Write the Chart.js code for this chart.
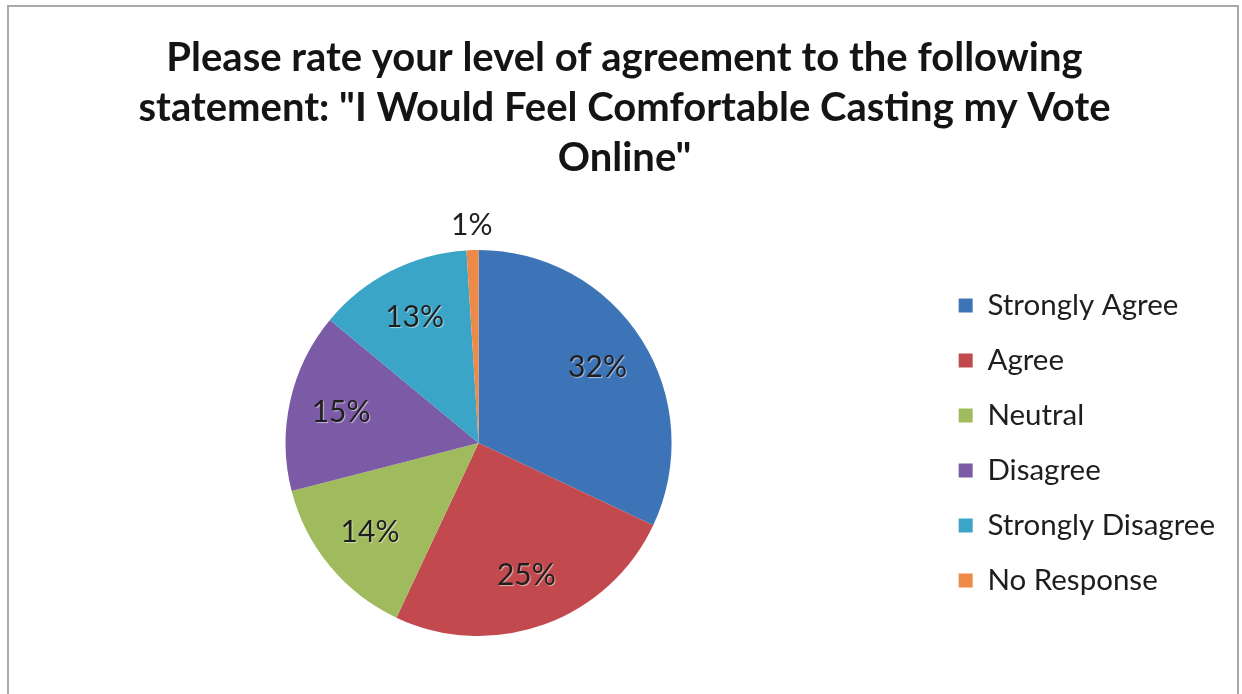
<!DOCTYPE html>
<html>
<head>
<meta charset="utf-8">
<script src="https://cdn.jsdelivr.net/npm/chart.js@4"></script>
<style>
  html, body { margin: 0; padding: 0; background: #ffffff; }
  #wrap { position: relative; width: 1242px; height: 694px; }
  canvas { display: block; }
</style>
</head>
<body>
<div id="wrap"><canvas id="chart" width="1242" height="694"></canvas></div>
<script>
// Survey answers and their share of respondents (percent)
const categories = ["Strongly Agree", "Agree", "Neutral", "Disagree", "Strongly Disagree", "No Response"];
const shares = [32, 25, 14, 15, 13, 1];
const sliceColors = ["#3d74b8", "#c24a4f", "#9fbb5d", "#7b5ba6", "#3aa5c7", "#ee8a48"];
const titleLines = [
  "Please rate your level of agreement to the following",
  "statement: \"I Would Feel Comfortable Casting my Vote",
  "Online\""
];

const FONT = "Lato, 'Open Sans', 'DejaVu Sans', sans-serif";

// Thin grey frame around the chart
const framePlugin = {
  id: 'frame',
  beforeDraw(chart) {
    const ctx = chart.ctx;
    ctx.save();
    ctx.fillStyle = '#ffffff';
    ctx.fillRect(0, 0, chart.width, chart.height);
    ctx.strokeStyle = '#a9a9a9';
    ctx.lineWidth = 2;
    ctx.strokeRect(8, 6, chart.width - 12, chart.height + 20);
    ctx.restore();
  }
};

// Percent labels inside each slice; very thin slices get theirs just outside the rim
const sliceLabels = {
  id: 'sliceLabels',
  afterDatasetsDraw(chart) {
    const ctx = chart.ctx;
    const meta = chart.getDatasetMeta(0);
    const values = chart.data.datasets[0].data;
    ctx.save();
    ctx.font = "30px " + FONT;
    ctx.textAlign = 'center';
    ctx.textBaseline = 'middle';
    meta.data.forEach((arc, i) => {
      const p = arc.getProps(['x', 'y', 'startAngle', 'endAngle', 'outerRadius'], true);
      const mid = (p.startAngle + p.endAngle) / 2;
      const small = values[i] < 3;
      const r = small ? p.outerRadius + 25 : p.outerRadius * 0.73;
      const tx = p.x + Math.cos(mid) * r;
      const ty = p.y + Math.sin(mid) * r;
      if (!small) {
        ctx.shadowColor = 'rgba(255,255,255,0.55)';
        ctx.shadowOffsetX = 1;
        ctx.shadowOffsetY = 1;
        ctx.shadowBlur = 1;
      } else {
        ctx.shadowColor = 'transparent';
      }
      ctx.fillStyle = '#1e1e1e';
      ctx.fillText(values[i] + '%', tx, ty);
    });
    ctx.restore();
  }
};

new Chart(document.getElementById('chart'), {
  type: 'pie',
  data: {
    labels: categories,
    datasets: [{
      data: shares,
      backgroundColor: sliceColors,
      borderWidth: 0
    }]
  },
  plugins: [framePlugin, sliceLabels],
  options: {
    responsive: false,
    animation: false,
    layout: { padding: { left: 24, right: 17, top: 0, bottom: 58 } },
    plugins: {
      tooltip: { enabled: false },
      title: {
        display: true,
        text: titleLines,
        color: '#141414',
        font: { family: FONT, size: 40, weight: 'bold', lineHeight: 1.25 },
        padding: { top: 33, bottom: 67 }
      },
      legend: {
        display: true,
        position: 'right',
        fullSize: false,
        labels: {
          color: '#1e1e1e',
          font: { family: FONT, size: 29.5 },
          boxWidth: 14,
          boxHeight: 14,
          padding: 25.5
        }
      }
    }
  }
});
</script>
</body>
</html>
